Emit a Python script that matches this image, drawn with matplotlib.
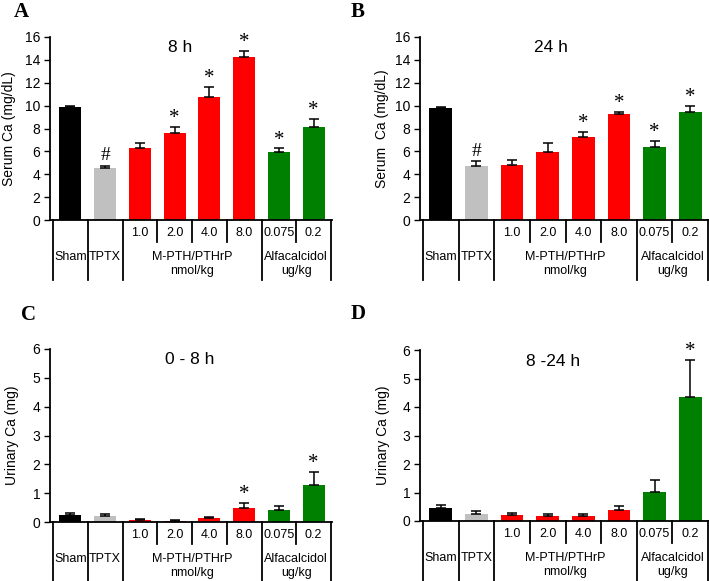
"""Serum and urinary Ca bar panels (A-D) with grouped category table below each axis."""

import matplotlib
matplotlib.use("Agg")
import matplotlib.pyplot as plt
from matplotlib.lines import Line2D

plt.rcParams["font.family"] = ["Liberation Sans", "DejaVu Sans"]

FIG_W, FIG_H = 709, 581

doses = ["1.0", "2.0", "4.0", "8.0", "0.075", "0.2"]
groups = ["Sham", "TPTX", "M-PTH/PTHrP\nnmol/kg", "Alfacalcidol\nug/kg"]
colors = ["black", "#c0c0c0", "#ff0000", "#ff0000", "#ff0000", "#ff0000", "#008000", "#008000"]

# values: mean and upper error-bar end
serum_8h = [9.9, 4.52, 6.27, 7.58, 10.78, 14.28, 5.97, 8.16]
serum_8h_err = [0.08, 0.23, 0.43, 0.58, 0.88, 0.52, 0.30, 0.67]
serum_24h = [9.8, 4.72, 4.8, 5.92, 7.23, 9.24, 6.41, 9.41]
serum_24h_err = [0.12, 0.44, 0.44, 0.78, 0.49, 0.23, 0.53, 0.55]
urine_0_8 = [0.24, 0.20, 0.06, 0.05, 0.13, 0.50, 0.42, 1.28]
urine_0_8_err = [0.07, 0.07, 0.03, 0.03, 0.05, 0.16, 0.13, 0.46]
urine_8_24 = [0.47, 0.26, 0.21, 0.19, 0.16, 0.39, 1.03, 4.36]
urine_8_24_err = [0.09, 0.08, 0.08, 0.04, 0.07, 0.13, 0.41, 1.29]

star_a = ["", "#", "", "*", "*", "*", "*", "*"]
star_b = ["", "#", "", "", "*", "*", "*", "*"]
star_c = ["", "", "", "", "", "*", "", "*"]
star_d = ["", "", "", "", "", "", "", "*"]


def px_axes(left, bottom_y, right, top_y):
    # pixel box (image coords, y down) -> figure fraction rect
    return [left / FIG_W, (FIG_H - bottom_y) / FIG_H, (right - left) / FIG_W, (bottom_y - top_y) / FIG_H]


def panel(fig, rect_px, values, errs, marks, ymax, ystep, ylabel, ylabel_x, title, title_x, letter, letter_xy):
    left, bottom_y, right, top_y = rect_px
    ax = fig.add_axes(px_axes(*rect_px))
    width_px = right - left
    height_px = bottom_y - top_y
    slot = (width_px - 4) / 8.0
    x = list(range(8))
    ax.bar(x, values, width=0.64, color=colors, edgecolor="none", zorder=2)
    ax.errorbar(x, values, yerr=[[0] * 8, errs], fmt="none", ecolor="black",
                elinewidth=1.1, capsize=3.3, capthick=1.1, zorder=3)
    for xi, v, e, m in zip(x, values, errs, marks):
        if m:
            ax.annotate(m, (xi, v + e), xytext=(0, -1 if m == "*" else 1), textcoords="offset points",
                        ha="center", va="bottom", fontsize=15 if m == "*" else 14,
                        family="Liberation Serif")
    ax.set_xlim(-0.5 - 3 / slot, 7.5 + 1 / slot)
    ax.set_ylim(0, ymax)
    ax.set_yticks([i * ystep for i in range(int(ymax / ystep) + 1)])
    ax.tick_params(axis="y", direction="out", length=4, width=1, labelsize=10, pad=3)
    ax.set_xticks([])
    for s in ["top", "right"]:
        ax.spines[s].set_visible(False)
    for s in ["left", "bottom"]:
        ax.spines[s].set_linewidth(1.3)

    # category table below the axis (offsets in pixels below the x axis)
    tr = ax.get_xaxis_transform()

    def fy(px):
        return -px / height_px

    for b in [-0.5, 0.5, 1.5, 5.5, 7.5]:
        ax.add_line(Line2D([b, b], [0, fy(60)], transform=tr, color="black", lw=1.3, clip_on=False))
    for b in [2.5, 3.5, 4.5, 6.5]:
        ax.add_line(Line2D([b, b], [0, fy(22)], transform=tr, color="black", lw=1.3, clip_on=False))
    for xi, d in zip(range(2, 8), doses):
        ax.text(xi, fy(13), d, transform=tr, ha="center", va="center", fontsize=9)
    ax.text(0, fy(37), groups[0], transform=tr, ha="center", va="center", fontsize=9)
    ax.text(1, fy(37), groups[1], transform=tr, ha="center", va="center", fontsize=9)
    ax.text(3.5, fy(44), groups[2], transform=tr, ha="center", va="center", fontsize=9, linespacing=1.25)
    ax.text(6.5, fy(44), groups[3], transform=tr, ha="center", va="center", fontsize=9, linespacing=1.25)

    ax.text(title_x, 1 - 11 / height_px, title, transform=ax.transAxes, ha="center", va="center", fontsize=12.5)
    fig.text(ylabel_x / FIG_W, 1 - (top_y + bottom_y) / 2 / FIG_H, ylabel, rotation=90,
             ha="center", va="center", fontsize=10)
    fig.text(letter_xy[0] / FIG_W, 1 - letter_xy[1] / FIG_H, letter, ha="center", va="center",
             fontsize=15, fontweight="bold", family="Liberation Serif")
    return ax


def main() -> None:
    fig = plt.figure(figsize=(FIG_W / 100, FIG_H / 100), dpi=100)
    panel(fig, (50, 220, 332, 37), serum_8h, serum_8h_err, star_a, 16, 2,
          "Serum Ca (mg/dL)", 9, "8 h", 0.46, "A", (21, 12))
    panel(fig, (420, 220, 709, 37), serum_24h, serum_24h_err, star_b, 16, 2,
          "Serum  Ca (mg/dL)", 382, "24 h", 0.453, "B", (358, 12))
    panel(fig, (50, 522, 332, 349), urine_0_8, urine_0_8_err, star_c, 6, 1,
          "Urinary Ca (mg)", 12, "0 - 8 h", 0.496, "C", (29, 315))
    panel(fig, (420, 521, 709, 350), urine_8_24, urine_8_24_err, star_d, 6, 1,
          "Urinary Ca (mg)", 383, "8 -24 h", 0.46, "D", (358, 314))
    fig.savefig("out.png", dpi=100)
    plt.close(fig)


if __name__ == "__main__":
    main()
